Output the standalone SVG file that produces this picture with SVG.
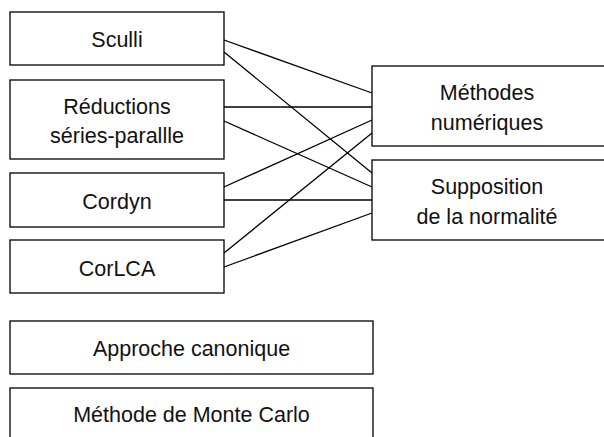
<svg xmlns="http://www.w3.org/2000/svg" width="604" height="437" viewBox="0 0 604 437">
<style>
rect{fill:#fff;stroke:#000;stroke-width:1.3}
line{stroke:#000;stroke-width:1.3}
text{font-family:"Liberation Sans",Arial,sans-serif;font-size:21.5px;fill:#111;text-anchor:middle}
</style>
<rect x="0" y="0" width="604" height="437" style="stroke:none"/>
<g id="sculli"><rect x="10" y="12" width="214" height="53"/><text x="117" y="46.5">Sculli</text></g>
<g id="reductions"><rect x="10" y="80" width="214" height="79"/><text x="117" y="113.5">Réductions</text><text x="117" y="143">séries-parallle</text></g>
<g id="cordyn"><rect x="10" y="173" width="214" height="54"/><text x="117" y="209">Cordyn</text></g>
<g id="corlca"><rect x="10" y="240" width="214" height="53"/><text x="117" y="275.5">CorLCA</text></g>
<g id="methodes"><rect x="372" y="66" width="240" height="80"/><text x="487" y="100">Méthodes</text><text x="487" y="129.5">numériques</text></g>
<g id="supposition"><rect x="372" y="160" width="240" height="80"/><text x="487" y="194">Supposition</text><text x="487" y="223.5">de la normalité</text></g>
<g id="canonique"><rect x="10" y="321" width="363" height="53"/><text x="191.5" y="355.5">Approche canonique</text></g>
<g id="montecarlo"><rect x="10" y="388" width="363" height="60"/><text x="191.5" y="422">Méthode de Monte Carlo</text></g>
<g id="connectors">
<line x1="224" y1="40" x2="372" y2="93"/>
<line x1="224" y1="52" x2="372" y2="173"/>
<line x1="224" y1="107" x2="372" y2="107"/>
<line x1="224" y1="121" x2="372" y2="187"/>
<line x1="224" y1="187" x2="372" y2="120"/>
<line x1="224" y1="200" x2="372" y2="200"/>
<line x1="224" y1="253" x2="372" y2="133"/>
<line x1="224" y1="267" x2="372" y2="213"/>
</g>
</svg>
